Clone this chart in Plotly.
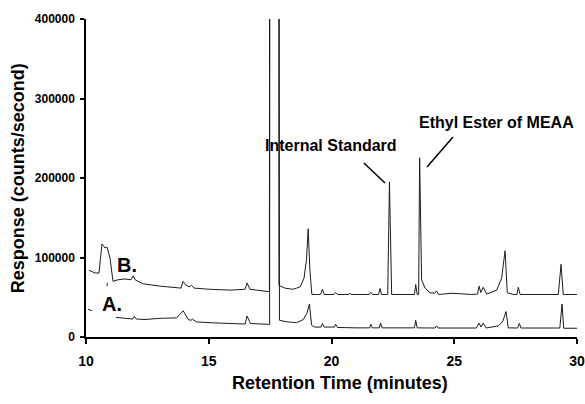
import plotly.graph_objects as go

# Trace B (upper chromatogram) - retention time (min) and response (counts/s)
b_time = [10.12, 10.37, 10.53, 10.61, 10.65, 10.73, 10.77, 10.86, 10.98, 11.10,
          11.30, 11.59, 11.83, 11.93, 12.00, 12.32, 13.01, 13.87, 13.95, 14.07,
          14.20, 14.30, 14.40, 15.05, 15.87, 16.48, 16.56, 16.68, 17.41, 17.47,
          17.48, 17.85, 17.86, 18.10, 18.43, 18.72, 18.88, 18.98, 19.05, 19.12,
          19.20, 19.55, 19.63, 19.70, 20.10, 20.17, 20.25, 20.70, 20.75, 20.80,
          21.53, 21.60, 21.67, 21.92, 21.98, 22.04, 22.29, 22.36, 22.45, 23.00,
          23.38, 23.43, 23.49, 23.55, 23.59, 23.67, 23.81, 24.01, 24.20, 24.28,
          24.36, 24.90, 25.71, 25.95, 26.01, 26.08, 26.18, 26.32, 26.73, 26.93,
          27.07, 27.16, 27.41, 27.55, 27.61, 27.68, 29.24, 29.35, 29.44, 30.00]
b_resp = [84000, 80500, 80500, 103000, 117000, 114000, 112000, 113000, 99000, 70000,
          72000, 73000, 72000, 77000, 72000, 67000, 64000, 61500, 70000, 65500,
          63000, 65000, 61500, 60000, 59000, 60000, 68000, 60000, 57000, 57000,
          600000, 600000, 65000, 61500, 60000, 63000, 74000, 97000, 136000, 84000,
          53500, 53500, 60000, 53500, 53500, 56000, 53500, 53500, 55000, 53500,
          53500, 56000, 53500, 53500, 61000, 53500, 53500, 195000, 53500, 53500,
          53500, 66000, 53500, 53500, 225500, 72000, 61600, 55700, 55000, 58000,
          53500, 55000, 53500, 54000, 64000, 56000, 62500, 54000, 59000, 74000,
          108500, 55700, 53500, 53500, 62500, 53500, 53500, 91400, 53500, 53500]

# Trace A (lower chromatogram); None marks gaps in the recorded trace
a_time = [10.08, 10.24, None, 10.86, 10.86, None,
          11.22, 11.60, 11.90, 11.97, 12.05, 12.40, 13.01, 13.69, 13.96, 14.17,
          14.28, 14.33, 14.50, 15.05, 16.48, 16.56, 16.70, 17.36, 17.48, 17.49,
          17.87, 17.88, 18.20, 18.58, 18.85, 19.00, 19.10, 19.19, 19.30, 19.58,
          19.63, 19.70, 20.12, 20.17, 20.24, 21.00, 21.55, 21.60, 21.66, 21.95,
          22.00, 22.06, 23.38, 23.43, 23.49, 24.22, 24.28, 24.34, 25.90, 26.01,
          26.09, 26.18, 26.30, 26.80, 26.98, 27.11, 27.20, 27.58, 27.65, 27.72,
          29.30, 29.39, 29.46, 30.00]
a_resp = [35000, 33000, None, 64000, 68000, None,
          24700, 23000, 22600, 26000, 22600, 22000, 23500, 24000, 33000, 21800,
          21000, 22500, 19000, 18000, 16300, 26400, 17000, 16000, 16000, 600000,
          600000, 21000, 19000, 18000, 22000, 30000, 41500, 15000, 12500, 12500,
          17000, 12500, 12500, 16000, 12000, 11500, 11500, 16000, 11500, 11500,
          17500, 11500, 11500, 21000, 11500, 11300, 14000, 11300, 11300, 17500,
          12500, 17500, 11300, 14000, 20000, 32000, 11500, 11300, 17000, 11300,
          11300, 41500, 11000, 11000]

x_ticks = [10, 15, 20, 25, 30]
y_ticks = [0, 100000, 200000, 300000, 400000]

FONT = "Arial, Liberation Sans, sans-serif"
LINE = "#1c1c1c"

fig = go.Figure()
fig.add_trace(go.Scatter(x=b_time, y=b_resp, mode="lines", name="B",
                         line=dict(color=LINE, width=1), connectgaps=False))
fig.add_trace(go.Scatter(x=a_time, y=a_resp, mode="lines", name="A",
                         line=dict(color=LINE, width=1), connectgaps=False))

# annotation leader lines
fig.add_shape(type="line", x0=21.32, y0=218900, x1=22.18, y1=193700,
              line=dict(color="black", width=1.5))
fig.add_shape(type="line", x0=24.95, y0=251600, x1=23.89, y1=213800,
              line=dict(color="black", width=1.5))

lab = dict(family=FONT, size=16, color="black")
fig.add_annotation(x=19.98, y=240300, text="<b>Internal Standard</b>",
                   showarrow=False, font=lab)
fig.add_annotation(x=26.74, y=270400, text="<b>Ethyl Ester of MEAA</b>",
                   showarrow=False, font=lab)
fig.add_annotation(x=11.67, y=90600, text="<b>B.</b>", showarrow=False,
                   font=dict(family=FONT, size=20, color="black"))
fig.add_annotation(x=11.04, y=42000, text="<b>A.</b>", showarrow=False,
                   font=dict(family=FONT, size=20, color="black"))

# axis titles
fig.add_annotation(xref="paper", yref="paper", x=-0.138, y=0.5,
                   text="<b>Response (counts/second)</b>", textangle=-90,
                   showarrow=False, xanchor="center", yanchor="middle",
                   font=dict(family=FONT, size=18, color="black"))
fig.add_annotation(xref="paper", yref="paper", x=0.517, y=-0.145,
                   text="<b>Retention Time (minutes)</b>",
                   showarrow=False, xanchor="center", yanchor="middle",
                   font=dict(family=FONT, size=18, color="black"))

fig.update_layout(
    width=585, height=404,
    margin=dict(l=86, r=8, t=19, b=67, autoexpand=False),
    paper_bgcolor="white", plot_bgcolor="white",
    showlegend=False,
    font=dict(family=FONT, color="black"),
)
fig.update_xaxes(
    range=[10, 30], tickvals=x_ticks, ticktext=[f"<b>{v}</b>" for v in x_ticks],
    showgrid=False, zeroline=False, showline=True, linecolor="black", linewidth=1.5,
    ticks="outside", ticklen=5, tickwidth=1.5, tickcolor="black",
    tickfont=dict(family=FONT, size=14, color="black"),
    ticklabelstandoff=5, ticklabeloverflow="allow", automargin=False,
)
fig.update_yaxes(
    range=[0, 400000], tickvals=y_ticks, ticktext=[f"<b>{v}</b>" for v in y_ticks],
    showgrid=False, zeroline=False, showline=True, linecolor="black", linewidth=1.5,
    ticks="outside", ticklen=4, tickwidth=1.5, tickcolor="black",
    tickfont=dict(family=FONT, size=12, color="black"),
    ticklabelstandoff=3, ticklabeloverflow="allow", automargin=False,
)

fig.write_html("out.html",
               config={"displayModeBar": False},
               post_script="document.body.style.margin='0';document.body.style.overflow='hidden';")
